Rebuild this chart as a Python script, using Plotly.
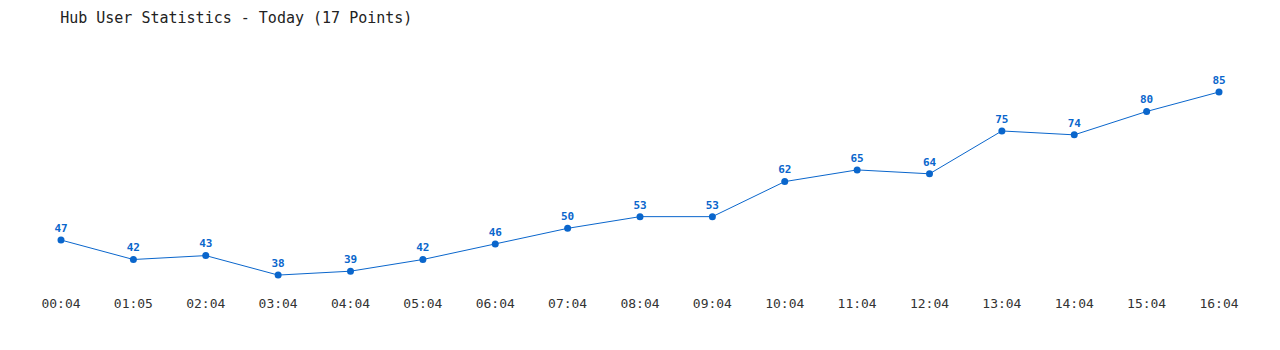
import plotly.graph_objects as go

times = ["00:04", "01:05", "02:04", "03:04", "04:04", "05:04", "06:04", "07:04", "08:04",
         "09:04", "10:04", "11:04", "12:04", "13:04", "14:04", "15:04", "16:04"]
users = [47, 42, 43, 38, 39, 42, 46, 50, 53, 53, 62, 65, 64, 75, 74, 80, 85]

blue = "#0a66cc"
font = "DejaVu Sans Mono, Liberation Mono, monospace"

fig = go.Figure()
fig.add_trace(go.Scatter(
    x=list(range(len(times))), y=users,
    mode="lines+markers+text",
    line=dict(color=blue, width=1),
    marker=dict(color=blue, size=7),
    text=[str(v) for v in users],
    textposition="top center",
    textfont=dict(family=font, size=11, color=blue, weight="bold"),
    cliponaxis=False,
    hoverinfo="skip",
))

fig.update_layout(
    width=1280, height=350,
    margin=dict(l=61, r=61, t=40, b=60),
    paper_bgcolor="white", plot_bgcolor="white",
    showlegend=False,
    title=dict(text="Hub User Statistics - Today (17 Points)", x=0.047, xanchor="left",
               y=0.948, yanchor="middle",
               font=dict(family=font, size=15, color="#222222")),
    xaxis=dict(range=[0, 16], tickmode="array", tickvals=list(range(len(times))), ticktext=times,
               showgrid=False, zeroline=False, showline=False,
               ticks="outside", ticklen=1, tickcolor="rgba(0,0,0,0)",
               tickfont=dict(family=font, size=13, color="#333333")),
    yaxis=dict(range=[34.17, 98.35], visible=False, showgrid=False, zeroline=False),
)

fig.write_html("out.html")
